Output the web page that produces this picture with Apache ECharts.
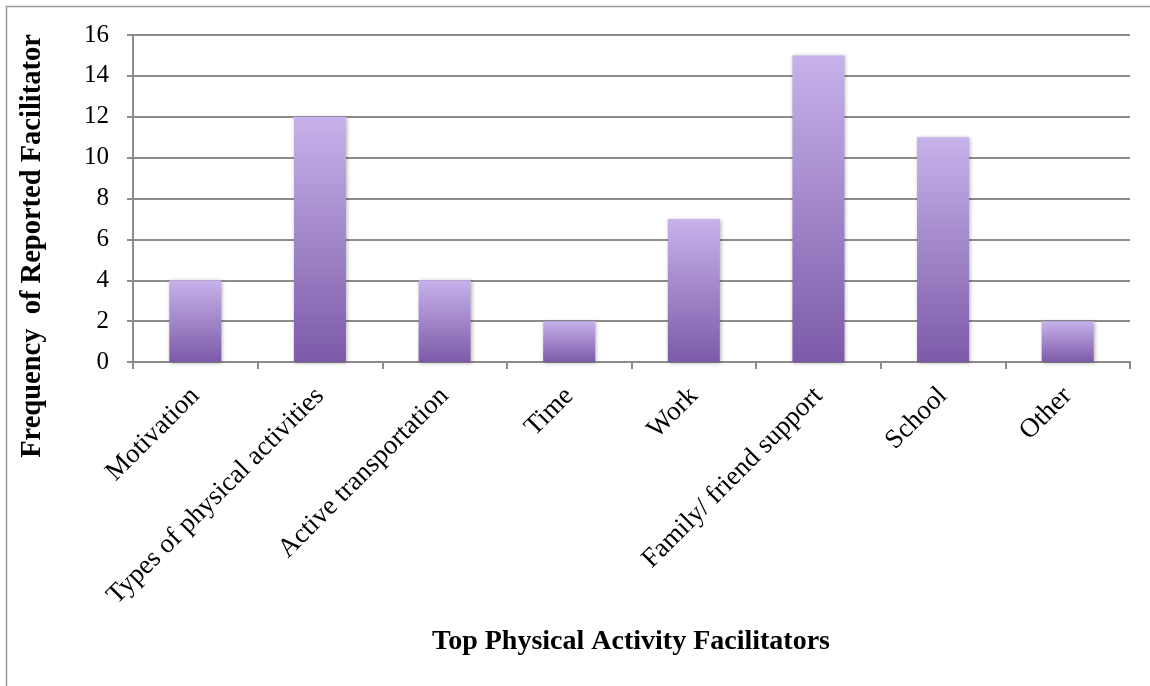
<!DOCTYPE html>
<html>
<head>
<meta charset="utf-8">
<script src="https://cdn.jsdelivr.net/npm/echarts@6/dist/echarts.min.js"></script>
<style>
  html, body { margin: 0; padding: 0; background: #fff; }
  #chart { width: 1150px; height: 686px; }
</style>
</head>
<body>
<div id="chart"></div>
<script>
const categories = [
  'Motivation',
  'Types of physical activities',
  'Active transportation',
  'Time',
  'Work',
  'Family/ friend support',
  'School',
  'Other'
];
const frequencies = [4, 12, 4, 2, 7, 15, 11, 2];
const yTicks = { min: 0, max: 16, interval: 2 };

const serif = '"Liberation Serif", "DejaVu Serif", serif';
const axisGray = '#8c8c8c';

const chart = echarts.init(document.getElementById('chart'), null, { renderer: 'canvas' });

chart.setOption({
  backgroundColor: '#fff',
  animation: false,
  textStyle: { fontFamily: serif },
  grid: { left: 133, right: 20, top: 35, bottom: 324, containLabel: false },
  graphic: [
    {
      type: 'rect',
      shape: { x: 6.5, y: 6.5, width: 1160, height: 700 },
      style: { fill: 'none', stroke: '#999', lineWidth: 1.5 },
      silent: true
    },
    {
      type: 'text',
      x: 33,
      y: 246,
      rotation: Math.PI / 2,
      style: {
        text: 'Frequency  of Reported Facilitator',
        font: 'bold 28.5px ' + serif,
        fill: '#000',
        align: 'center',
        verticalAlign: 'middle'
      }
    },
    {
      type: 'text',
      x: 631,
      y: 642,
      style: {
        text: 'Top Physical Activity Facilitators',
        font: 'bold 28px ' + serif,
        fill: '#000',
        align: 'center',
        verticalAlign: 'middle'
      }
    }
  ],
  xAxis: {
    type: 'category',
    data: categories,
    axisLine: { lineStyle: { color: axisGray, width: 2 } },
    axisTick: { show: true, length: 7, alignWithLabel: false, lineStyle: { color: axisGray, width: 2 } },
    axisLabel: {
      interval: 0,
      rotate: 45,
      margin: 30,
      color: '#000',
      fontSize: 27,
      fontFamily: serif
    }
  },
  yAxis: {
    type: 'value',
    min: yTicks.min,
    max: yTicks.max,
    interval: yTicks.interval,
    axisLine: { show: true, lineStyle: { color: axisGray, width: 2 } },
    axisTick: { show: true, length: 6, lineStyle: { color: axisGray, width: 2 } },
    splitLine: { show: true, lineStyle: { color: axisGray, width: 2 } },
    axisLabel: { color: '#000', fontSize: 25, margin: 24, fontFamily: serif }
  },
  series: [
    {
      type: 'bar',
      data: frequencies,
      barWidth: 52,
      itemStyle: {
        color: new echarts.graphic.LinearGradient(0, 0, 0, 1, [
          { offset: 0, color: '#c7b2eb' },
          { offset: 1, color: '#7c5aa8' }
        ]),
        shadowColor: 'rgba(0,0,0,0.3)',
        shadowBlur: 4,
        shadowOffsetX: 1,
        shadowOffsetY: 1
      }
    }
  ]
});
</script>
</body>
</html>
